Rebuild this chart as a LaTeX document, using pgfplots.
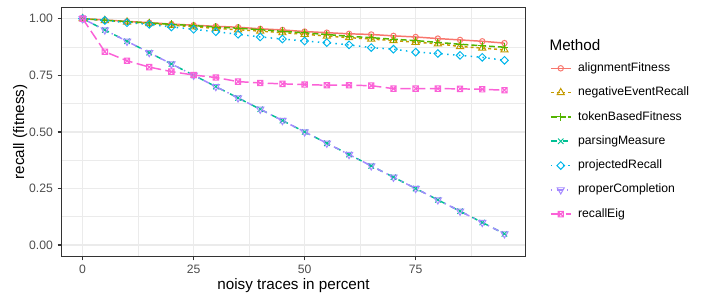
\documentclass[border=0pt]{standalone}
\usepackage{fontspec}
\setmainfont{Liberation Sans}
\usepackage{pgfplots}
\usepackage{pgfplotstable}
\pgfplotsset{compat=1.18}
\usetikzlibrary{plotmarks}

\definecolor{cA}{HTML}{F8766D}
\definecolor{cB}{HTML}{C49A00}
\definecolor{cC}{HTML}{53B400}
\definecolor{cD}{HTML}{00C094}
\definecolor{cE}{HTML}{00B6EB}
\definecolor{cF}{HTML}{A58AFF}
\definecolor{cG}{HTML}{FB61D7}
\definecolor{grey20}{HTML}{333333}
\definecolor{grey30}{HTML}{4D4D4D}
\definecolor{grey92}{HTML}{EBEBEB}

\pgfdeclareplotmark{rdiamond}{%
  \pgfpathmoveto{\pgfqpoint{0pt}{\pgfplotmarksize}}%
  \pgfpathlineto{\pgfqpoint{\pgfplotmarksize}{0pt}}%
  \pgfpathlineto{\pgfqpoint{0pt}{-\pgfplotmarksize}}%
  \pgfpathlineto{\pgfqpoint{-\pgfplotmarksize}{0pt}}%
  \pgfpathclose
  \pgfusepathqstroke}
\pgfdeclareplotmark{rtridown}{%
  \pgfpathmoveto{\pgfqpoint{0pt}{-\pgfplotmarksize}}%
  \pgfpathlineto{\pgfqpoint{0.866\pgfplotmarksize}{0.5\pgfplotmarksize}}%
  \pgfpathlineto{\pgfqpoint{-0.866\pgfplotmarksize}{0.5\pgfplotmarksize}}%
  \pgfpathclose
  \pgfusepathqstroke}
\pgfdeclareplotmark{sqx}{%
  \pgfpathrectangle{\pgfqpoint{-\pgfplotmarksize}{-\pgfplotmarksize}}{\pgfqpoint{2\pgfplotmarksize}{2\pgfplotmarksize}}%
  \pgfpathmoveto{\pgfqpoint{-\pgfplotmarksize}{-\pgfplotmarksize}}%
  \pgfpathlineto{\pgfqpoint{\pgfplotmarksize}{\pgfplotmarksize}}%
  \pgfpathmoveto{\pgfqpoint{-\pgfplotmarksize}{\pgfplotmarksize}}%
  \pgfpathlineto{\pgfqpoint{\pgfplotmarksize}{-\pgfplotmarksize}}%
  \pgfusepathqstroke}

\pgfplotstableread{
x  af    ner   tbf   pm   pr    pc   re
0  1.000 1.000 1.000 1.00 1.000 1.00 1.000
5  0.994 0.992 0.993 0.95 0.992 0.95 0.854
10 0.988 0.985 0.987 0.90 0.982 0.90 0.814
15 0.982 0.978 0.981 0.85 0.975 0.85 0.786
20 0.976 0.971 0.975 0.80 0.963 0.80 0.766
25 0.971 0.964 0.969 0.75 0.953 0.75 0.751
30 0.966 0.957 0.963 0.70 0.942 0.70 0.740
35 0.962 0.951 0.958 0.65 0.931 0.65 0.722
40 0.955 0.945 0.951 0.60 0.919 0.60 0.716
45 0.950 0.938 0.944 0.55 0.910 0.55 0.712
50 0.943 0.931 0.937 0.50 0.901 0.50 0.709
55 0.938 0.923 0.930 0.45 0.894 0.45 0.706
60 0.933 0.916 0.922 0.40 0.884 0.40 0.706
65 0.930 0.910 0.916 0.35 0.872 0.35 0.704
70 0.924 0.903 0.909 0.30 0.865 0.30 0.691
75 0.919 0.896 0.903 0.25 0.852 0.25 0.691
80 0.912 0.889 0.895 0.20 0.846 0.20 0.691
85 0.906 0.877 0.887 0.15 0.838 0.15 0.690
90 0.900 0.870 0.880 0.10 0.829 0.10 0.688
95 0.892 0.862 0.874 0.05 0.816 0.05 0.684
}\data

\pgfplotsset{
  lA/.style={cA, line width=1.07pt, solid},
  lB/.style={cB, line width=1.07pt, dash pattern=on 2.13pt off 2.13pt},
  lC/.style={cC, line width=1.07pt, dash pattern=on 4.27pt off 2.13pt},
  lD/.style={cD, line width=1.07pt, dash pattern=on 4.27pt off 4.27pt},
  lE/.style={cE, line width=1.07pt, dash pattern=on 1.07pt off 3.2pt},
  lF/.style={cF, line width=1.07pt, dash pattern=on 1.07pt off 3.2pt on 4.27pt off 3.2pt},
  lG/.style={cG, line width=1.07pt, dash pattern=on 7.47pt off 3.2pt},
  mA/.style={mark=o, mark size=1.95pt, mark options={solid, line width=0.71pt}},
  mB/.style={mark=triangle, mark size=3.0pt, mark options={solid, line width=0.71pt}},
  mC/.style={mark=+, mark size=2.76pt, mark options={solid, line width=0.71pt}},
  mD/.style={mark=x, mark size=2.76pt, mark options={solid, line width=0.71pt}},
  mE/.style={mark=rdiamond, mark size=2.76pt, mark options={solid, line width=0.71pt}},
  mF/.style={mark=rtridown, mark size=3.0pt, mark options={solid, line width=0.71pt}},
  mG/.style={mark=sqx, mark size=1.95pt, mark options={solid, line width=0.71pt}},
}

\begin{document}
\begin{tikzpicture}
\path[use as bounding box] (0,0) rectangle (508.32bp,218.16bp);
\begin{axis}[
  at={(44.3bp,33.5bp)}, anchor=south west,
  scale only axis, width=334.1bp, height=179.4bp,
  xmin=-4.75, xmax=99.75, ymin=-0.05, ymax=1.05,
  xtick={0,25,50,75}, ytick={0,0.25,0.5,0.75,1},
  minor xtick={12.5,37.5,62.5,87.5}, minor ytick={0.125,0.375,0.625,0.875},
  grid=both,
  major grid style={grey92, line width=1.07pt},
  minor grid style={grey92, line width=0.53pt},
  axis line style={grey20, line width=1.07pt},
  tick align=outside, tick pos=left,
  major tick length=2.75pt, minor tick length=0pt,
  major tick style={grey20, line width=1.07pt},
  /pgf/number format/assume math mode=true,
  ticklabel style={font=\fontsize{8.8}{10}\selectfont, text=grey30},
  yticklabel style={/pgf/number format/.cd, fixed, fixed zerofill, precision=2},
  xlabel={noisy traces in percent},
  ylabel={recall (fitness)},
  label style={font=\fontsize{11}{13}\selectfont},
  xlabel style={at={(axis description cs:0.5,-0.1343)}, anchor=base, inner sep=0pt},
  ylabel style={at={(axis description cs:-0.0808,0.5)}, anchor=base, inner sep=0pt},
  legend style={at={(axis description cs:1.0527,0.804)}, anchor=north west,
    draw=none, fill=none, inner sep=0pt, outer sep=0pt, row sep=0pt,
    font=\fontsize{8.8}{10}\selectfont,
    nodes={inner sep=0pt, minimum height=17.5bp, text height=6.4pt, text depth=1.9pt, anchor=west},
    /tikz/every odd column/.style={column sep=4.8bp}},
  legend cell align=left,
  legend image code/.code={\draw[mark repeat=2, mark phase=2] plot coordinates {(0bp,0bp)(7.2bp,0bp)(14.4bp,0bp)};},
]
\addplot[lA, forget plot] table[x=x,y=af]{\data};
\addplot[lB, forget plot] table[x=x,y=ner]{\data};
\addplot[lC, forget plot] table[x=x,y=tbf]{\data};
\addplot[lD, forget plot] table[x=x,y=pm]{\data};
\addplot[lE, forget plot] table[x=x,y=pr]{\data};
\addplot[lF, forget plot] table[x=x,y=pc]{\data};
\addplot[lG, forget plot] table[x=x,y=re]{\data};
\addplot[cA, only marks, mA, forget plot] table[x=x,y=af]{\data};
\addplot[cB, only marks, mB, forget plot] table[x=x,y=ner]{\data};
\addplot[cC, only marks, mC, forget plot] table[x=x,y=tbf]{\data};
\addplot[cD, only marks, mD, forget plot] table[x=x,y=pm]{\data};
\addplot[cE, only marks, mE, forget plot] table[x=x,y=pr]{\data};
\addplot[cF, only marks, mF, forget plot] table[x=x,y=pc]{\data};
\addplot[cG, only marks, mG, forget plot] table[x=x,y=re]{\data};
\addlegendimage{lA, mA}\addlegendentry{alignmentFitness}
\addlegendimage{lB, mB}\addlegendentry{negativeEventRecall}
\addlegendimage{lC, mC}\addlegendentry{tokenBasedFitness}
\addlegendimage{lD, mD}\addlegendentry{parsingMeasure}
\addlegendimage{lE, mE}\addlegendentry{projectedRecall}
\addlegendimage{lF, mF}\addlegendentry{properCompletion}
\addlegendimage{lG, mG}\addlegendentry{recallEig}
\end{axis}
\node[anchor=base west, inner sep=0pt, font=\fontsize{11}{13}\selectfont] at (395.5bp,181.7bp) {Method};
\end{tikzpicture}
\end{document}
